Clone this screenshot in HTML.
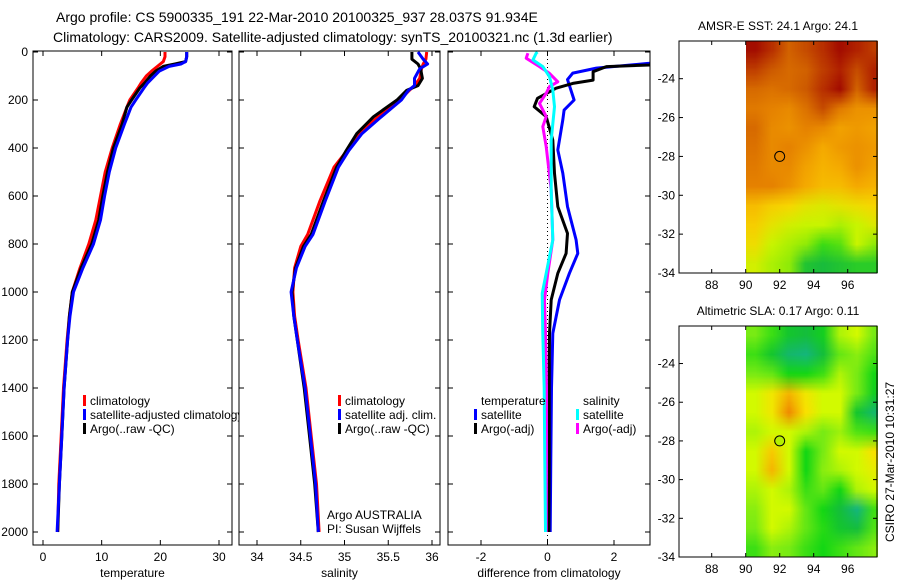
<!DOCTYPE html>
<html><head><meta charset="utf-8"><style>
html,body{margin:0;padding:0;background:#fff;}
svg{display:block;font-family:"Liberation Sans",sans-serif;}
</style></head><body>
<svg id="chart" width="900" height="580" viewBox="0 0 900 580" xmlns="http://www.w3.org/2000/svg">
<rect width="900" height="580" fill="#fff"/>
<text x="56" y="22" font-size="14">Argo profile: CS 5900335_191 22-Mar-2010 20100325_937 28.037S 91.934E</text>
<text x="53" y="42" font-size="14">Climatology: CARS2009. Satellite-adjusted climatology: synTS_20100321.nc (1.3d earlier)</text>
<g id="layer"></g>
<text transform="translate(894,462) rotate(-90)" text-anchor="middle" font-size="12">CSIRO 27-Mar-2010 10:31:27</text>
</svg>
<script>
// ---------- data ----------
const depthTicks=[0,200,400,600,800,1000,1200,1400,1600,1800,2000];
const tempTicks=[0,10,20,30];
const salTicks=[34,34.5,35,35.5,36];
const diffTicks=[-2,0,2];
const depthT=[0,20,40,50,60,80,100,130,150,200,230,300,400,500,600,700,800,900,1000,1100,1200,1400,1600,1800,2000];
const tempArgo=[24.5,24.5,24.3,22.5,20.5,19.2,18.3,17.3,16.5,15.1,14.3,13.5,12.0,11.0,10.2,9.5,8.3,6.5,5.0,4.5,4.2,3.6,3.2,2.8,2.5];
const tempClim=[20.8,20.8,20.5,20.0,19.5,18.5,17.6,16.7,16.2,14.8,14.3,13.2,11.8,10.6,9.8,9.0,7.8,6.3,5.0,4.5,4.1,3.5,3.1,2.7,2.5];
const tempSat=[24.5,24.5,24.3,23.5,21.5,19.8,19.0,17.8,17.2,15.8,15.0,13.9,12.4,11.3,10.5,9.8,8.6,6.8,5.2,4.6,4.2,3.6,3.2,2.8,2.4];
const depthS=[0,30,50,70,110,140,160,200,270,340,410,480,620,760,810,900,1000,1100,1200,1400,1600,1800,2000];
const salArgo=[35.77,35.77,35.84,35.87,35.89,35.84,35.71,35.6,35.33,35.14,35.02,34.91,34.76,34.62,34.53,34.44,34.40,34.42,34.46,34.54,34.6,34.66,34.7];
const salClim=[35.94,35.93,35.9,35.88,35.86,35.8,35.74,35.63,35.38,35.17,35.03,34.88,34.72,34.58,34.5,34.43,34.41,34.43,34.47,34.56,34.62,34.68,34.71];
const salSat=[35.84,35.9,35.95,35.86,35.8,35.8,35.73,35.65,35.42,35.2,35.05,34.93,34.78,34.64,34.55,34.45,34.39,34.42,34.46,34.55,34.61,34.67,34.7];
const depthTdSat=[0,47,67,88,115,200,242,283,408,505,644,783,839,922,1033,1172,1400,1700,2000];
const tdSat=[3.7,3.07,1.47,0.76,0.6,0.8,0.5,0.46,0.31,0.46,0.6,0.86,0.91,0.66,0.36,0.16,0.12,0.1,0.08];
const depthTdArgo=[0,54,61,82,117,131,151,193,228,269,367,506,644,756,839,922,1033,1172,1400,1700,2000];
const tdArgo=[3.7,3.07,1.77,1.37,1.37,0.76,0.26,-0.3,-0.4,-0.04,0.16,0.21,0.31,0.6,0.56,0.31,0.11,0.06,0.05,0.05,0.04];
const depthSdArgo=[5,26,61,89,124,144,172,214,269,311,394,575,783,922,1033,1172,1400,1700,2000];
const sdArgo=[-0.59,-0.64,-0.24,0.06,0.31,0.06,-0.04,-0.24,-0.04,-0.14,-0.04,0.11,0.16,0.01,-0.09,-0.06,-0.03,-0.03,-0.04];
const depthSdSat=[0,5,33,61,103,158,228,367,575,783,922,1006,1172,1400,1700,2000];
const sdSat=[-0.3,-0.34,-0.44,-0.14,0.06,0.16,0.21,0.11,0.11,0.16,-0.04,-0.16,-0.14,-0.1,-0.08,-0.06];
const lonTicks=[88,90,92,94,96];
const latTicks=[-24,-26,-28,-30,-32,-34];
const mapLons=[90.5,91.5,92.5,93.5,94.5,95.5,96.5,97.5];
const mapLats=[-22.5,-23.5,-24.5,-25.5,-26.5,-27.5,-28.5,-29.5,-30.5,-31.5,-32.5,-33.5];
const sstGrid=[
[24.6,24.3,23.9,24.1,24.3,24.6,24.4,24.2],
[24.2,24.0,23.8,23.9,24.2,24.4,24.1,24.4],
[23.8,23.7,23.8,24.0,24.3,24.6,23.9,24.4],
[23.6,23.5,23.4,23.7,24.1,23.6,23.3,23.3],
[23.8,23.4,23.3,23.5,23.4,23.1,23.2,23.1],
[23.7,23.4,23.5,23.3,23.0,23.2,23.3,23.2],
[23.6,23.4,23.4,23.1,22.9,23.0,23.3,23.1],
[23.5,23.5,23.3,23.0,22.8,22.8,23.0,22.9],
[22.8,22.6,22.5,22.3,22.2,22.3,22.4,22.5],
[22.6,22.3,22.1,22.0,22.0,21.9,22.0,22.2],
[22.4,22.0,21.9,21.8,21.5,21.6,22.0,21.8],
[22.1,21.9,21.8,21.2,21.1,21.2,21.3,21.3]];
const slaGrid=[
[0.05,0.02,-0.02,-0.03,-0.01,0.08,0.1,0.05],
[0.02,-0.02,-0.06,-0.07,-0.03,0.04,0.06,0.03],
[0.05,0.04,0.0,0.0,0.02,0.08,0.05,0.0],
[0.1,0.13,0.16,0.13,0.1,0.1,0.05,-0.01],
[0.1,0.13,0.18,0.14,0.1,0.1,-0.02,-0.06],
[0.08,0.1,0.1,0.08,0.05,0.07,0.03,0.02],
[0.1,0.15,0.1,0.0,0.05,0.1,0.1,0.14],
[0.1,0.16,0.1,0.0,0.06,0.08,0.1,0.12],
[0.08,0.1,0.08,0.02,0.04,0.0,0.08,0.1],
[0.06,0.1,0.1,0.04,0.0,-0.03,-0.07,0.02],
[0.05,0.1,0.08,0.04,0.01,-0.02,-0.03,0.03],
[0.02,0.06,0.05,0.02,0.0,0.02,0.04,0.06]];
const argoLon=92, argoLat=-28;

// ---------- helpers ----------
const NS="http://www.w3.org/2000/svg";
const layer=document.getElementById('layer');
function mk(tag,attrs,parent){const e=document.createElementNS(NS,tag);for(const k in attrs)e.setAttribute(k,attrs[k]);(parent||layer).appendChild(e);return e;}
function lin(d0,d1,r0,r1){return v=>r0+(v-d0)*(r1-r0)/(d1-d0);}
const yDepth=lin(0,2000,52,532);
let clipN=0;

function panel(name,x0,x1,xs,xticks,xlabel,showY){
  const y0=51,y1=545;
  const bg=mk('rect',{x:x0,y:y0,width:x1-x0,height:y1-y0,fill:'#fff'});
  
  
  const id='clip'+(clipN++);
  const cp=mk('clipPath',{id:id});mk('rect',{x:x0,y:y0,width:x1-x0,height:y1-y0},cp);
  const g=mk('g',{'clip-path':'url(#'+id+')'});
  
  
  const ax=mk('g',{});
  
  
  mk('rect',{x:x0,y:y0,width:x1-x0,height:y1-y0,fill:'none',stroke:'#000','stroke-width':1},ax);
  xticks.forEach(t=>{const x=xs(t);
    mk('line',{x1:x,x2:x,y1:y1,y2:y1-5,stroke:'#000'},ax);
    mk('line',{x1:x,x2:x,y1:y0,y2:y0+5,stroke:'#000'},ax);
    const tx=mk('text',{x:x,y:y1+16,'text-anchor':'middle','font-size':12},ax);tx.textContent=t;
    
    
  });
  depthTicks.forEach(d=>{const y=yDepth(d);
    mk('line',{x1:x0,x2:x0+5,y1:y,y2:y,stroke:'#000'},ax);
    mk('line',{x1:x1,x2:x1-5,y1:y,y2:y,stroke:'#000'},ax);
    if(showY){const tx=mk('text',{x:x0-5,y:y+4,'text-anchor':'end','font-size':12},ax);tx.textContent=d;
      
      }
  });
  const lb=mk('text',{x:(x0+x1)/2,y:577,'text-anchor':'middle','font-size':12});lb.textContent=xlabel;
  
  
  return g;
}
function line(g,xs,vals,depths,color,name){
  const pts=vals.map((v,i)=>xs(v).toFixed(1)+','+yDepth(depths[i]).toFixed(1)).join(' ');
  const p=mk('polyline',{points:pts,fill:'none',stroke:color,'stroke-width':3,'stroke-linejoin':'round'},g);
  
  
}
function legend(items,x,y0,dy,w){
  items.forEach((it,i)=>{const y=y0+i*dy;
    if(it[0]){const s=mk('rect',{x:x,y:y-10,width:3,height:11,fill:it[0]});
      
      }
    const t=mk('text',{x:x+7,y:y,'font-size':12});t.textContent=it[1];
    
    
  });
}

// ---------- panel 1: temperature ----------
const xT=lin(0,30,43,219);
const g1=panel('temperature-panel',33,232,xT,tempTicks,'temperature',true);
line(g1,xT,tempClim,depthT,'#ff0000','temp-climatology-line');
line(g1,xT,tempArgo,depthT,'#000000','temp-argo-line');
line(g1,xT,tempSat,depthT,'#0000ff','temp-satellite-line');
legend([['#ff0000','climatology'],['#0000ff','satellite-adjusted climatology'],['#000000','Argo(..raw -QC)']],83,405,14);

// ---------- panel 2: salinity ----------
const xS=lin(34,36,257,432);
const g2=panel('salinity-panel',239,440,xS,salTicks,'salinity',false);
line(g2,xS,salClim,depthS,'#ff0000','sal-climatology-line');
line(g2,xS,salArgo,depthS,'#000000','sal-argo-line');
line(g2,xS,salSat,depthS,'#0000ff','sal-satellite-line');
legend([['#ff0000','climatology'],['#0000ff','satellite adj. clim.'],['#000000','Argo(..raw -QC)']],338,405,14);
const a1=mk('text',{x:327,y:519,'font-size':12});a1.textContent='Argo AUSTRALIA';


const a2=mk('text',{x:327,y:533,'font-size':12});a2.textContent='PI: Susan Wijffels';



// ---------- panel 3: difference ----------
const xD=lin(-2,2,481,614);
const g3=panel('difference-panel',448,650,xD,diffTicks,'difference from climatology',false);
const zl=mk('line',{x1:xD(0),x2:xD(0),y1:51,y2:545,stroke:'#000','stroke-dasharray':'1,3'},g3);


line(g3,xD,tdSat,depthTdSat,'#0000ff','temp-diff-satellite-line');
line(g3,xD,tdArgo,depthTdArgo,'#000000','temp-diff-argo-line');
line(g3,xD,sdArgo,depthSdArgo,'#ff00ff','sal-diff-argo-line');
line(g3,xD,sdSat,depthSdSat,'#00ffff','sal-diff-satellite-line');
legend([[null,'temperature'],['#0000ff','satellite'],['#000000','Argo(-adj)']],474,405,14);
legend([[null,'salinity'],['#00ffff','satellite'],['#ff00ff','Argo(-adj)']],576,405,14);

// ---------- maps ----------
function interp(stops,v){
  if(v<=stops[0][0])return stops[0][1];
  for(let i=1;i<stops.length;i++){if(v<=stops[i][0]){const a=stops[i-1],b=stops[i],t=(v-a[0])/(b[0]-a[0]);
    return a[1].map((c,k)=>Math.round(c+(b[1][k]-c)*t));}}
  return stops[stops.length-1][1];
}
const sstStops=[[21.0,[16,180,70]],[21.5,[60,220,20]],[22.0,[200,245,0]],[22.5,[248,215,0]],[23.0,[245,170,0]],[23.5,[230,130,0]],[24.0,[205,90,0]],[24.5,[170,20,0]],[24.8,[150,0,0]]];
const slaStops=[[-0.08,[20,180,140]],[-0.03,[20,190,60]],[0.0,[20,215,20]],[0.05,[120,235,20]],[0.1,[210,250,0]],[0.14,[250,225,0]],[0.18,[240,140,0]]];
function drawMap(name,top,bottom,grid,stops,title,circleFill){
  const x0=679,x1=877;
  const xm=lin(88,96,711.7,847.7);
  const ym=lin(-24,-34,top+(bottom-top)*(1.94/11.94),bottom);
  const cx0=xm(90),cx1=xm(97.8),cy0=top,cy1=bottom;
  const fo=mk('foreignObject',{x:cx0,y:cy0,width:cx1-cx0,height:cy1-cy0});
  const cv=document.createElement('canvas');cv.width=Math.round(cx1-cx0);cv.height=Math.round(cy1-cy0);
  cv.style.display='block';
  
  
  fo.appendChild(cv);
  const small=document.createElement('canvas');small.width=grid[0].length;small.height=grid.length;
  const sc=small.getContext('2d');const img=sc.createImageData(small.width,small.height);
  grid.forEach((row,r)=>row.forEach((v,c)=>{const col=interp(stops,v);const i=(r*small.width+c)*4;
    img.data[i]=col[0];img.data[i+1]=col[1];img.data[i+2]=col[2];img.data[i+3]=255;}));
  sc.putImageData(img,0,0);
  const ctx=cv.getContext('2d');ctx.imageSmoothingEnabled=true;
  // grid cell centres map to lon 90.5.. / lat -22.5..; extend half-cells
  const lx=xm(mapLons[0]-0.5)-cx0, rx=xm(mapLons[mapLons.length-1]+0.5)-cx0;
  const ty=ym(mapLats[0]+0.5)-cy0, by=ym(mapLats[mapLats.length-1]-0.5)-cy0;
  ctx.drawImage(small,lx,ty,rx-lx,by-ty);
  const ax=mk('g',{});
  
  
  mk('rect',{x:x0,y:top,width:x1-x0,height:bottom-top,fill:'none',stroke:'#000'},ax);
  lonTicks.forEach(l=>{const x=xm(l);
    mk('line',{x1:x,x2:x,y1:bottom,y2:bottom-4,stroke:'#000'},ax);
    mk('line',{x1:x,x2:x,y1:top,y2:top+4,stroke:'#000'},ax);
    const t=mk('text',{x:x,y:bottom+16,'text-anchor':'middle','font-size':12},ax);t.textContent=l;
    
    
  });
  latTicks.forEach(l=>{const y=ym(l);
    mk('line',{x1:x0,x2:x0+4,y1:y,y2:y,stroke:'#000'},ax);
    mk('line',{x1:x1,x2:x1-4,y1:y,y2:y,stroke:'#000'},ax);
    const t=mk('text',{x:x0-4,y:y+4,'text-anchor':'end','font-size':12},ax);t.textContent=l;
    
    
  });
  const c=mk('circle',{cx:xm(argoLon),cy:ym(argoLat),r:5,fill:circleFill,stroke:'#000','stroke-width':1});
  
  
  const tt=mk('text',{x:(x0+x1)/2,y:top-11,'text-anchor':'middle','font-size':12});tt.textContent=title;
  
  
}
drawMap('sst-map',41,273,sstGrid,sstStops,'AMSR-E SST: 24.1 Argo: 24.1','none');
drawMap('sla-map',326,557,slaGrid,slaStops,'Altimetric SLA: 0.17 Argo: 0.11','#b4f000');
</script>
</body></html>
